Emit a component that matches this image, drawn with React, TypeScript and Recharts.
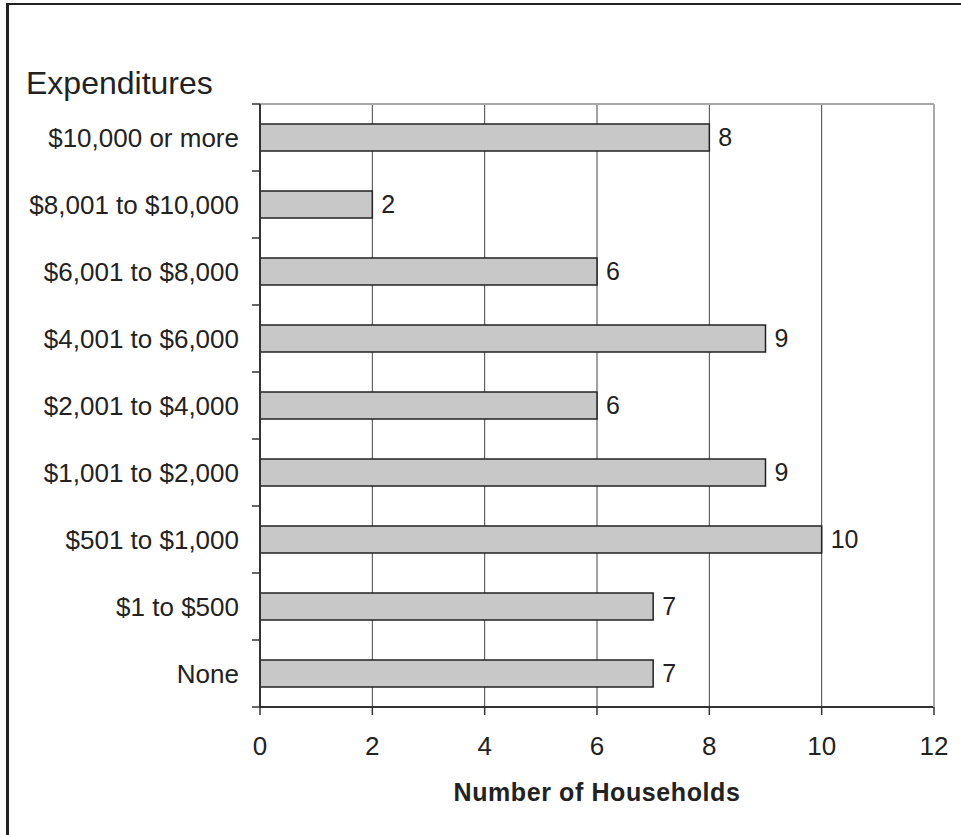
import React from 'react';
import {
  BarChart,
  Bar,
  XAxis,
  YAxis,
  CartesianGrid,
  LabelList,
} from 'recharts';

const categories = [
  '$10,000 or more',
  '$8,001 to $10,000',
  '$6,001 to $8,000',
  '$4,001 to $6,000',
  '$2,001 to $4,000',
  '$1,001 to $2,000',
  '$501 to $1,000',
  '$1 to $500',
  'None',
];
const households = [8, 2, 6, 9, 6, 9, 10, 7, 7];
const xTicks = [0, 2, 4, 6, 8, 10, 12];

const data = categories.map((c, i) => ({ category: c, value: households[i] }));

const FONT = '"Liberation Sans", Arial, Helvetica, sans-serif';

function CatTick(props: any) {
  const { x, y, payload, index, visibleTicksCount } = props;
  const half = payload && payload.offset ? payload.offset : 0;
  const axisX = x + 21;
  return (
    <g>
      <line x1={axisX} x2={axisX - 8} y1={y - half} y2={y - half} stroke="#333" strokeWidth={1.5} />
      {index === (visibleTicksCount ?? 0) - 1 ? (
        <line x1={axisX} x2={axisX - 8} y1={y + half} y2={y + half} stroke="#333" strokeWidth={1.5} />
      ) : null}
      <text
        x={x}
        y={y}
        dy="0.355em"
        textAnchor="end"
        fontSize={26}
        fill="#222"
        fontFamily={FONT}
      >
        {payload.value}
      </text>
    </g>
  );
}

export default function App() {
  return (
    <div
      style={{
        position: 'absolute',
        left: 0,
        top: 0,
        width: 961,
        height: 835,
        overflow: 'hidden',
        background: '#fff',
        fontFamily: FONT,
      }}
    >
      <div
        style={{
          position: 'absolute',
          left: 6,
          top: 3,
          width: 2000,
          height: 2000,
          borderLeft: '3px solid #222',
          borderTop: '2px solid #222',
        }}
      />
      <div
        style={{
          position: 'absolute',
          left: 26,
          top: 68,
          fontSize: 32,
          lineHeight: '31px',
          color: '#222',
          whiteSpace: 'nowrap',
        }}
      >
        Expenditures
      </div>
      <div style={{ position: 'absolute', left: 0, top: 0 }}>
        <BarChart
          width={961}
          height={835}
          data={data}
          layout="vertical"
          margin={{ top: 103, right: 26, left: 0, bottom: 28 }}
          barCategoryGap={0}
        >
          <CartesianGrid horizontal={false} vertical stroke="#444" strokeWidth={1} />
          <XAxis
            type="number"
            dataKey="value"
            domain={[0, 12]}
            ticks={xTicks}
            interval={0}
            height={100}
            tickSize={8}
            tickMargin={22}
            axisLine={{ stroke: '#333', strokeWidth: 2 }}
            tickLine={{ stroke: '#333', strokeWidth: 1.5 }}
            tick={{ fontSize: 26, fill: '#222', fontFamily: FONT }}
            label={{
              value: 'Number of Households',
              position: 'insideBottom',
              offset: 6,
              style: {
                fontSize: 25,
                fontWeight: 'bold',
                fill: '#222',
                fontFamily: FONT,
                letterSpacing: 0.6,
              },
            }}
          />
          <XAxis
            xAxisId="top"
            orientation="top"
            type="number"
            dataKey="value"
            domain={[0, 12]}
            ticks={xTicks}
            height={1}
            tick={false}
            tickLine={false}
            axisLine={{ stroke: '#a8a8a8', strokeWidth: 2 }}
          />
          <YAxis
            yAxisId="cat"
            type="category"
            dataKey="category"
            width={260}
            tickSize={0}
            tickMargin={21}
            tickLine={false}
            interval={0}
            axisLine={{ stroke: '#333', strokeWidth: 2 }}
            tick={<CatTick />}
          />
          <YAxis
            yAxisId="right"
            orientation="right"
            type="category"
            dataKey="category"
            width={1}
            tick={false}
            tickLine={false}
            axisLine={{ stroke: '#a8a8a8', strokeWidth: 2 }}
          />
          <Bar
            yAxisId="cat"
            dataKey="value"
            barSize={27}
            fill="#c8c8c8"
            stroke="#222"
            strokeWidth={1.5}
            isAnimationActive={false}
          >
            <LabelList
              dataKey="value"
              position="right"
              offset={9}
              style={{ fontSize: 25, fill: '#222', fontFamily: FONT }}
            />
          </Bar>
        </BarChart>
      </div>
    </div>
  );
}
